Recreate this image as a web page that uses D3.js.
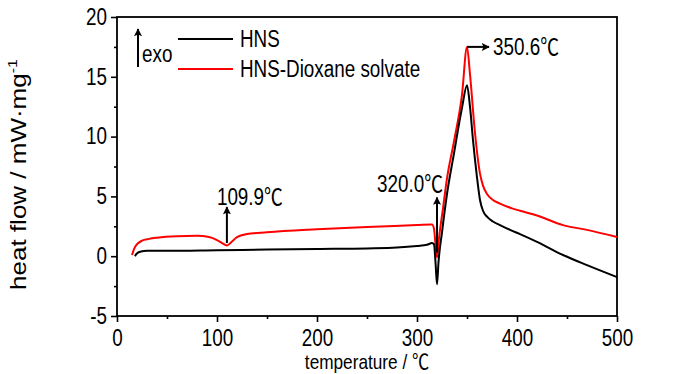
<!DOCTYPE html>
<html>
<head>
<meta charset="utf-8">
<script src="https://cdn.jsdelivr.net/npm/d3@7"></script>
<style>
  body { margin: 0; background: #fff; }
  text { font-family: "Liberation Sans", Arial, "Noto Sans CJK SC", sans-serif; fill: #000; }
</style>
</head>
<body>
<div id="chart"></div>
<script>

// DSC curves (temperature in C, heat flow in mW/mg)
var hnsT = [18, 19, 21, 24, 30, 50, 100, 150, 200, 250, 280, 300, 310, 315, 317, 318.5, 320, 321.5, 325, 330, 337, 345, 350, 353, 356, 360, 363, 366, 370, 376, 383, 393, 403, 420, 446, 470, 500];
var hnsV = [0, 0.15, 0.3, 0.4, 0.45, 0.45, 0.5, 0.55, 0.6, 0.65, 0.72, 0.85, 0.95, 1.1, 1.0, -0.5, -2.35, -0.5, 2.0, 5.2, 8.6, 12.4, 14.3, 12.5, 9.7, 6.6, 4.7, 3.8, 3.3, 2.9, 2.6, 2.2, 1.85, 1.2, 0.1, -0.75, -1.75];

var solT = [15, 17, 20, 25, 32, 40, 60, 80, 92, 100, 105, 110, 114, 120, 130, 150, 200, 250, 300, 315, 317, 318.5, 320, 322, 326, 330, 337, 345, 350, 353, 358, 363, 366, 370, 376, 383, 395, 403, 420, 446, 470, 500];
var solV = [0.1, 0.6, 1.0, 1.3, 1.45, 1.55, 1.67, 1.7, 1.6, 1.35, 1.1, 0.9, 1.15, 1.6, 1.85, 2.0, 2.25, 2.45, 2.6, 2.65, 2.3, 1.0, -0.1, 1.5, 4.0, 6.5, 9.6, 13.5, 17.5, 15.2, 10.3, 6.9, 5.9, 5.2, 4.7, 4.4, 4.0, 3.8, 3.4, 2.6, 2.2, 1.6];

var seriesNames = ["HNS", "HNS-Dioxane solvate"];
var seriesColors = ["#000000", "#ff0000"];

var xTicks = [0, 100, 200, 300, 400, 500];
var xMinor = [50, 150, 250, 350, 450];
var yTicks = [-5, 0, 5, 10, 15, 20];
var yMinor = [-2.5, 2.5, 7.5, 12.5, 17.5];

// peak annotations: arrow start (t0,v0) -> tip (t1,v1)
var notes = [
  {label: "109.9℃", t0: 109.9, v0: 1.1, t1: 109.9, v1: 4.1},
  {label: "320.0℃", t0: 320, v0: 0.3, t1: 320, v1: 4.9},
  {label: "350.6℃", t0: 350, v0: 17.5, t1: 372, v1: 17.5}
];

var margin = {top: 17, right: 83, bottom: 58, left: 117},
    width = 700 - margin.left - margin.right,
    height = 374 - margin.top - margin.bottom;

var sx = 0.82; // text looks horizontally squeezed in the original

var x = d3.scaleLinear().domain([0, 500]).range([0, width]),
    y = d3.scaleLinear().domain([-5, 20]).range([height, 0]);

var svg = d3.select("#chart").append("svg")
    .attr("width", 700)
    .attr("height", 374);

var defs = svg.append("defs");
defs.append("marker")
    .attr("id", "head")
    .attr("viewBox", "0 0 10 10")
    .attr("refX", 9).attr("refY", 5)
    .attr("markerWidth", 10).attr("markerHeight", 8)
    .attr("markerUnits", "userSpaceOnUse")
    .attr("orient", "auto")
  .append("path")
    .attr("d", "M0,0L10,5L0,10L2,5Z")
    .attr("fill", "#000");

var g = svg.append("g")
    .attr("transform", "translate(" + margin.left + "," + margin.top + ")");

// axes
var xAxis = g.append("g")
    .attr("transform", "translate(0," + height + ")")
    .call(d3.axisBottom(x).tickValues(xTicks).tickSizeInner(6).tickSizeOuter(0).tickPadding(8)
      .tickFormat(function(d) { return String(d); }));
xAxis.selectAll("text")
    .attr("font-size", 23)
    .attr("transform", "scale(" + sx + ",1)");

g.append("g")
    .attr("transform", "translate(0," + height + ")")
    .call(d3.axisBottom(x).tickValues(xMinor).tickSize(3).tickFormat(""));

var yAxis = g.append("g")
    .call(d3.axisLeft(y).tickValues(yTicks).tickSizeInner(6).tickSizeOuter(0).tickPadding(4)
      .tickFormat(function(d) { return String(d); }));
yAxis.selectAll("text")
    .attr("font-size", 23)
    .attr("x", -10 / sx)
    .attr("transform", "scale(" + sx + ",1)");

g.append("g")
    .call(d3.axisLeft(y).tickValues(yMinor).tickSize(3).tickFormat(""));

g.selectAll(".domain").remove();
g.selectAll(".tick line").attr("stroke", "#000").attr("stroke-width", 1.6);

g.append("rect")
    .attr("width", width)
    .attr("height", height)
    .attr("fill", "none")
    .attr("stroke", "#000")
    .attr("stroke-width", 1.8);

// curves
var line = d3.line()
    .x(function(d) { return x(d[0]); })
    .y(function(d) { return y(d[1]); })
    .curve(d3.curveMonotoneX);

var series = [d3.zip(hnsT, hnsV), d3.zip(solT, solV)];

g.selectAll(".curve")
    .data([series[1], series[0]])
    .enter().append("path")
      .attr("class", "curve")
      .attr("d", line)
      .attr("fill", "none")
      .attr("stroke", function(d, i) { return i == 0 ? seriesColors[1] : seriesColors[0]; })
      .attr("stroke-width", 2);

// annotation arrows + labels
notes.forEach(function(n) {
  g.append("line")
      .attr("x1", x(n.t0)).attr("y1", y(n.v0))
      .attr("x2", x(n.t1)).attr("y2", y(n.v1))
      .attr("stroke", "#000")
      .attr("stroke-width", 2)
      .attr("marker-end", "url(#head)");
});

function txt(sel, px, py, s, size, anchor) {
  return sel.append("text")
      .attr("transform", "translate(" + px + "," + py + ") scale(" + sx + ",1)")
      .attr("font-size", size)
      .attr("text-anchor", anchor || "start")
      .attr("dy", "0.35em")
      .text(s);
}

txt(g, x(notes[0].t1) - 10, y(notes[0].v1) - 10, notes[0].label, 23);
txt(g, x(notes[1].t1) + 6, y(notes[1].v1) - 14, notes[1].label, 23, "end");
txt(g, x(notes[2].t1) + 4, y(notes[2].v1), notes[2].label, 23);

// legend
var leg = svg.append("g").attr("transform", "translate(178,39)");
seriesNames.forEach(function(name, i) {
  leg.append("line")
      .attr("x1", 0).attr("x2", 55)
      .attr("y1", i * 30).attr("y2", i * 30)
      .attr("stroke", seriesColors[i])
      .attr("stroke-width", 2);
  txt(leg, 62, i * 30, name, 23);
});

svg.append("line")
    .attr("x1", 138).attr("y1", 67)
    .attr("x2", 138).attr("y2", 29)
    .attr("stroke", "#000")
    .attr("stroke-width", 2)
    .attr("marker-end", "url(#head)");
txt(svg, 142, 54, "exo", 23);

// axis titles
txt(svg, margin.left + width / 2, 362, "temperature / ℃", 21, "middle");

var yt = svg.append("text")
    .attr("transform", "translate(19," + (margin.top + height / 2 + 8) + ") rotate(-90) scale(1," + sx + ")")
    .attr("font-size", 26)
    .attr("text-anchor", "middle")
    .attr("dy", "0.35em");
yt.append("tspan").text("heat flow / mW·mg");
yt.append("tspan").attr("font-size", 16).attr("dy", "-0.7em").text("-1");

</script>
</body>
</html>
